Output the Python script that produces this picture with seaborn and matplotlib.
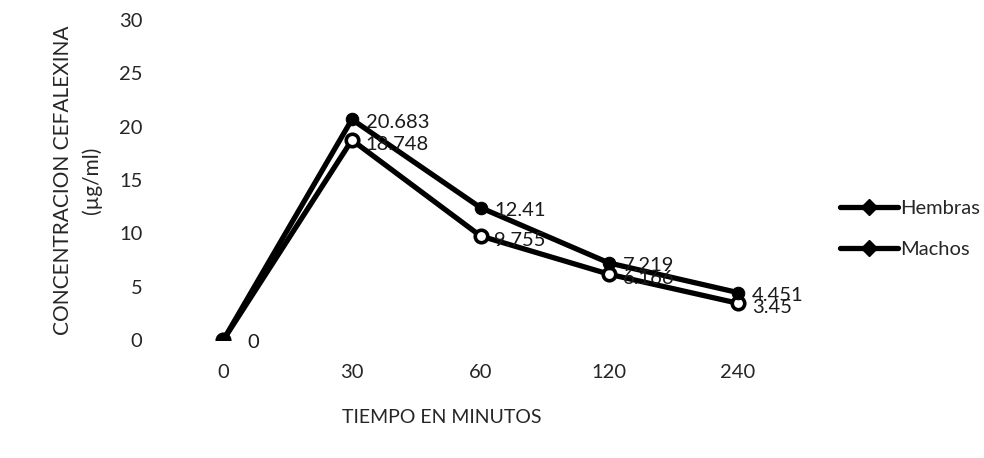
import matplotlib
matplotlib.use("Agg")
import matplotlib.pyplot as plt
import seaborn as sns
import pandas as pd
from matplotlib.lines import Line2D

times = ["0", "30", "60", "120", "240"]
hembras = [0, 20.683, 12.41, 7.219, 4.451]
machos = [0, 18.748, 9.755, 6.166, 3.45]
hembras_labels = ["0", "20.683", "12.41", "7.219", "4.451"]
machos_labels = ["", "18.748", "9.755", "6.166", "3.45"]
y_ticks = [0, 5, 10, 15, 20, 25, 30]

sns.set_theme(style="white")
plt.rcParams['font.family'] = ['Lato', 'DejaVu Sans']

FS = 14.5

df = pd.DataFrame({
    "Tiempo": times * 2,
    "Conc": hembras + machos,
    "Serie": ["Hembras"] * len(times) + ["Machos"] * len(times),
})

fig = plt.figure(figsize=(9.84, 4.58), dpi=100)
ax = fig.add_axes([0.1616, 0.2576, 0.6535, 0.6987])

dh = df[df.Serie == "Hembras"]
dm = df[df.Serie == "Machos"]
sns.lineplot(data=dm, x="Tiempo", y="Conc", ax=ax, color="black", lw=3.8,
             marker="o", markersize=9, markerfacecolor="white",
             markeredgecolor="black", markeredgewidth=2.6, sort=False)
sns.lineplot(data=dh, x="Tiempo", y="Conc", ax=ax, color="black", lw=3.8,
             marker="o", markersize=9, markerfacecolor="black",
             markeredgecolor="black", sort=False)

for i, (v, lab) in enumerate(zip(hembras, hembras_labels)):
    if lab:
        ax.annotate(lab, (i, v), xytext=(17 if v == 0 else 10, -2), textcoords="offset points",
                    ha="left", va="center", fontsize=FS, color="#1a1a1a")
for i, (v, lab) in enumerate(zip(machos, machos_labels)):
    if lab:
        ax.annotate(lab, (i, v), xytext=(10, -3), textcoords="offset points",
                    ha="left", va="center", fontsize=FS, color="#1a1a1a")

ax.set_xlim(-0.5, 4.5)
ax.set_ylim(0, 30)
ax.set_yticks(y_ticks)
ax.set_yticklabels([str(t) for t in y_ticks], fontsize=FS)
ax.tick_params(axis="y", pad=12, length=0)
ax.tick_params(axis="x", pad=17, length=0, labelsize=FS)
for s in ax.spines.values():
    s.set_visible(False)
ax.grid(False)

ax.set_xlabel("TIEMPO EN MINUTOS", fontsize=14)
ax.xaxis.set_label_coords(0.44, -0.215)
ax.set_ylabel("CONCENTRACION CEFALEXINA\n(µg/ml)", fontsize=15, linespacing=1.55)
ax.yaxis.set_label_coords(-0.088, 0.5)

handles = [
    Line2D([0], [0], color="black", lw=3.8, marker="D", markersize=8),
    Line2D([0], [0], color="black", lw=3.8, marker="D", markersize=8),
]
fig.legend(handles, ["Hembras", "Machos"], loc="center left",
           bbox_to_anchor=(0.835, 0.50), frameon=False, fontsize=FS,
           handlelength=2.9, handletextpad=0.1, labelspacing=1.2)

fig.savefig("out.png", dpi=100)
